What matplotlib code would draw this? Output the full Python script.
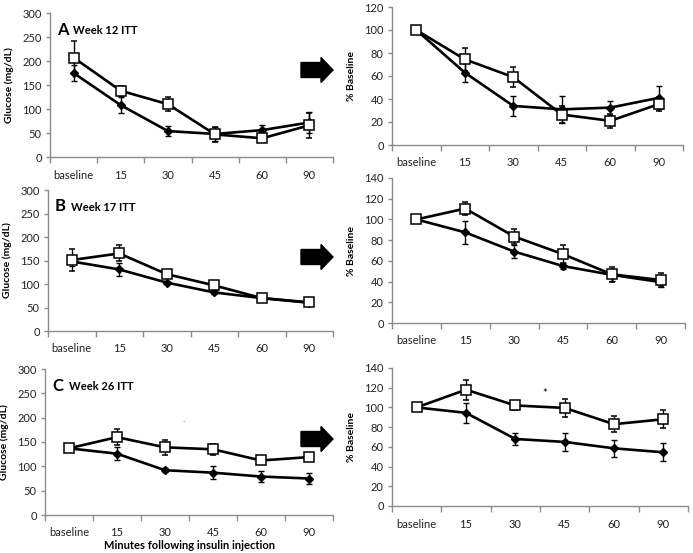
import numpy as np
import matplotlib.pyplot as plt
from matplotlib.patches import Polygon

plt.rcParams['font.family'] = ['Lato', 'DejaVu Sans']

categories = ['baseline', '15', '30', '45', '60', '90']

# Week 12 ITT
w12_glu_open = [207, 138, 110, 47, 39, 66]
w12_glu_open_err = [35, 10, 14, 16, 6, 26]
w12_glu_fill = [175, 108, 54, 48, 56, 72]
w12_glu_fill_err = [17, 17, 10, 14, 11, 22]
w12_pct_open = [100, 74.5, 59, 26.5, 21, 35.5]
w12_pct_open_err = [0, 10, 8.5, 7, 6, 6]
w12_pct_fill = [100, 63, 34, 31, 32.5, 41]
w12_pct_fill_err = [0, 8, 8.5, 12, 6, 10]

# Week 17 ITT
w17_glu_open = [151, 165, 121, 97, 70, 61]
w17_glu_open_err = [23, 17, 5, 5, 5, 5]
w17_glu_fill = [148, 131, 103, 82, 70, 60]
w17_glu_fill_err = [10, 13, 4, 4, 5, 5]
w17_pct_open = [100, 110.5, 83.5, 66.5, 47, 41.5]
w17_pct_open_err = [0, 6.5, 7, 8.5, 7, 6.5]
w17_pct_fill = [100, 87.5, 69, 55, 46.5, 39.5]
w17_pct_fill_err = [0, 11, 6, 3, 6, 5]

# Week 26 ITT
w26_glu_open = [137, 160, 139, 135, 112, 119]
w26_glu_open_err = [0, 16, 15, 11, 5, 5]
w26_glu_fill = [137, 126, 92, 87, 79, 75]
w26_glu_fill_err = [0, 13, 4, 13, 12, 11]
w26_pct_open = [100, 118, 102, 99.5, 83, 88]
w26_pct_open_err = [0, 10, 5, 9, 8, 9]
w26_pct_fill = [100, 94.5, 68, 65, 58.5, 54.5]
w26_pct_fill_err = [0, 10, 6, 9, 8.5, 9]

W, H = 693, 553
fig = plt.figure(figsize=(W / 100, H / 100), dpi=100)


def px_axes(x0, x1, ytop, ybot):
    # pixel box -> figure fraction axes
    return fig.add_axes([x0 / W, 1 - ybot / H, (x1 - x0) / W, (ybot - ytop) / H])


def draw_panel(ax, fill, fill_err, opn, opn_err, ymax, ystep, ylabel):
    x = np.arange(len(categories))
    ax.errorbar(x, fill, yerr=fill_err, color='black', lw=1.9, marker='D',
                markersize=4.5, mfc='black', mec='black', ecolor='black',
                elinewidth=1.0, capsize=2, capthick=1.0, zorder=2)
    ax.errorbar(x, opn, yerr=opn_err, color='black', lw=1.9, marker='s',
                markersize=6.5, mfc='white', mec='black', mew=1.1, ecolor='black',
                elinewidth=1.0, capsize=2, capthick=1.0, zorder=3)
    ax.set_xlim(-0.5, len(categories) - 0.5)
    ax.set_ylim(0, ymax)
    ax.set_yticks(np.arange(0, ymax + 1, ystep))
    ax.set_xticks(np.arange(-0.5, len(categories), 1))
    ax.set_xticklabels([])
    ax.set_xticks(x, minor=True)
    ax.set_xticklabels(categories, minor=True)
    ax.tick_params(axis='x', which='major', length=4, color='#8c8c8c', width=1)
    ax.tick_params(axis='x', which='minor', length=0, pad=9, labelsize=8,
                   labelcolor='#222222')
    ax.tick_params(axis='y', length=3, color='#8c8c8c', width=1, labelsize=8,
                   labelcolor='#222222', pad=3)
    for s in ['top', 'right']:
        ax.spines[s].set_visible(False)
    for s in ['left', 'bottom']:
        ax.spines[s].set_color('#8c8c8c')
        ax.spines[s].set_linewidth(1)
    ax.set_ylabel(ylabel, fontsize=7.5, fontweight='bold', labelpad=6)


def block_arrow(x0, x1, yc):
    # black block arrow, pixel coords
    shaft = 7.5
    head = 12.5
    hx = x1 - 12
    pts = [(x0, yc - shaft), (hx, yc - shaft), (hx, yc - head), (x1, yc),
           (hx, yc + head), (hx, yc + shaft), (x0, yc + shaft)]
    pts = [(px / W, 1 - py / H) for px, py in pts]
    fig.patches.append(Polygon(pts, closed=True, facecolor='black',
                               edgecolor='black', transform=fig.transFigure))


# row A
axA1 = px_axes(50, 333, 13, 157)
draw_panel(axA1, w12_glu_fill, w12_glu_fill_err, w12_glu_open, w12_glu_open_err,
           300, 50, 'Glucose (mg/dL)')
axA2 = px_axes(392, 683, 7, 145)
draw_panel(axA2, w12_pct_fill, w12_pct_fill_err, w12_pct_open, w12_pct_open_err,
           120, 20, '% Baseline')

# row B
axB1 = px_axes(48, 333, 190, 331)
draw_panel(axB1, w17_glu_fill, w17_glu_fill_err, w17_glu_open, w17_glu_open_err,
           300, 50, 'Glucose (mg/dL)')
axB2 = px_axes(392, 685, 178, 323)
draw_panel(axB2, w17_pct_fill, w17_pct_fill_err, w17_pct_open, w17_pct_open_err,
           140, 20, '% Baseline')

# row C
axC1 = px_axes(45, 333, 369, 515)
draw_panel(axC1, w26_glu_fill, w26_glu_fill_err, w26_glu_open, w26_glu_open_err,
           300, 50, 'Glucose (mg/dL)')
axC1.set_xlabel('Minutes following insulin injection', fontsize=8,
                fontweight='bold', labelpad=1)
axC2 = px_axes(392, 688, 368, 506)
draw_panel(axC2, w26_pct_fill, w26_pct_fill_err, w26_pct_open, w26_pct_open_err,
           140, 20, '% Baseline')
axC2.text(2.6, 114, '*', ha='center', va='center', fontsize=8)
axC1.text(2.4, 191, '-', ha='center', va='center', fontsize=5, color='#888888')

# panel titles
for ax, letter, title in [(axA1, 'A', 'Week 12 ITT'), (axB1, 'B', 'Week 17 ITT'),
                          (axC1, 'C', 'Week 26 ITT')]:
    ax.text(0.025, 0.94, letter, transform=ax.transAxes, fontsize=12,
            fontweight='bold', va='top', ha='left')
    ax.text(0.082, 0.915, title, transform=ax.transAxes, fontsize=8,
            fontweight='bold', va='top', ha='left')

block_arrow(301, 333, 70)
block_arrow(301, 333, 257)
block_arrow(301, 333, 439)

fig.savefig('out.png', dpi=100)
